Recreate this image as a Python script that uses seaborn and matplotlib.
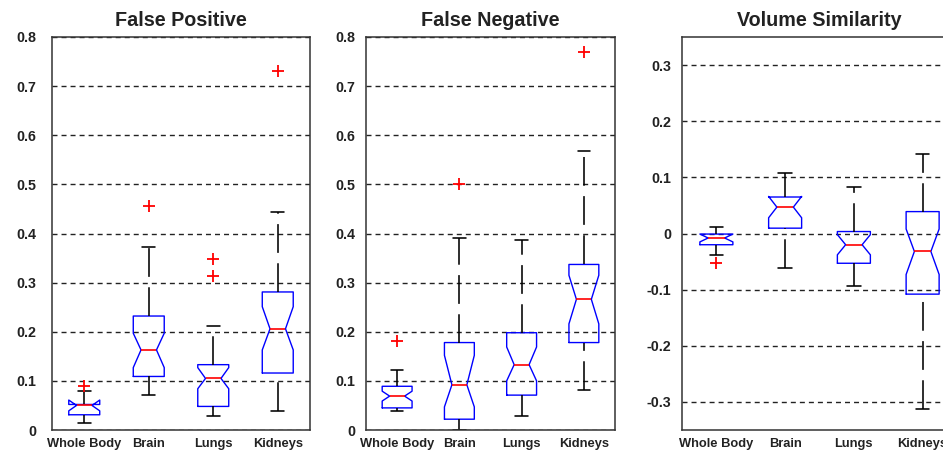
import matplotlib
matplotlib.use("Agg")
import matplotlib.pyplot as plt
import seaborn as sns

# ---------------- data (summary statistics) -------------
categories = ["Whole Body", "Brain", "Lungs", "Kidneys"]
titles = ["False Positive", "False Negative", "Volume Similarity"]

# False Positive
fp_whislo = [0.014, 0.071, 0.028, 0.038]
fp_q1     = [0.031, 0.109, 0.048, 0.116]
fp_med    = [0.050, 0.163, 0.105, 0.206]
fp_q3     = [0.052, 0.232, 0.133, 0.281]
fp_whishi = [0.079, 0.373, 0.211, 0.444]
fp_cilo   = [0.039, 0.127, 0.084, 0.163]
fp_cihi   = [0.061, 0.197, 0.127, 0.251]
fp_fliers = [[0.090], [0.455], [0.313, 0.348], [0.731]]

# False Negative
fn_whislo = [0.039, 0.000, 0.028, 0.082]
fn_q1     = [0.045, 0.022, 0.071, 0.178]
fn_med    = [0.069, 0.092, 0.133, 0.266]
fn_q3     = [0.089, 0.178, 0.198, 0.337]
fn_whishi = [0.123, 0.391, 0.386, 0.568]
fn_cilo   = [0.059, 0.047, 0.100, 0.216]
fn_cihi   = [0.079, 0.152, 0.169, 0.315]
fn_fliers = [[0.181], [0.500], [], [0.769]]

# Volume Similarity
vs_whislo = [-0.038, -0.061, -0.094, -0.313]
vs_q1     = [-0.020, 0.0095, -0.053, -0.108]
vs_med    = [-0.008, 0.047, -0.020, -0.032]
vs_q3     = [-0.001, 0.065, 0.0035, 0.039]
vs_whishi = [0.012, 0.107, 0.083, 0.142]
vs_cilo   = [-0.015, 0.028, -0.038, -0.073]
vs_cihi   = [-0.001, 0.066, -0.002, 0.008]
vs_fliers = [[-0.053], [], [], []]

fp_yticks = [0, 0.1, 0.2, 0.3, 0.4, 0.5, 0.6, 0.7, 0.8]
fp_ylabels = ["0", "0.1", "0.2", "0.3", "0.4", "0.5", "0.6", "0.7", "0.8"]
vs_yticks = [-0.3, -0.2, -0.1, 0, 0.1, 0.2, 0.3]
vs_ylabels = ["-0.3", "-0.2", "-0.1", "0", "0.1", "0.2", "0.3"]

panels = [
    (fp_whislo, fp_q1, fp_med, fp_q3, fp_whishi, fp_cilo, fp_cihi, fp_fliers),
    (fn_whislo, fn_q1, fn_med, fn_q3, fn_whishi, fn_cilo, fn_cihi, fn_fliers),
    (vs_whislo, vs_q1, vs_med, vs_q3, vs_whishi, vs_cilo, vs_cihi, vs_fliers),
]
ylims = [(0, 0.8), (0, 0.8), (-0.35, 0.35)]
ytick_sets = [(fp_yticks, fp_ylabels), (fp_yticks, fp_ylabels), (vs_yticks, vs_ylabels)]

# ---------------- style ----------------
sns.set_style("white")
plt.rcParams["font.family"] = ["Liberation Sans", "DejaVu Sans"]
plt.rcParams["font.weight"] = "bold"

W, H = 943, 453
fig = plt.figure(figsize=(W / 100, H / 100), dpi=100)

# axes boxes in pixels: (left, width)
ax_px = [(52, 258), (366, 249), (682, 275)]
top_px, bot_px = 37, 430
ylab_pad = [11, 8, 8]

for i, (stats_src, (xl, xw)) in enumerate(zip(panels, ax_px)):
    ax = fig.add_axes([xl / W, (H - bot_px) / H, xw / W, (bot_px - top_px) / H])
    wlo, q1, med, q3, whi, clo, chi, fl = stats_src
    stats = []
    for k, cat in enumerate(categories):
        stats.append(dict(label=cat, whislo=wlo[k], q1=q1[k], med=med[k], q3=q3[k],
                          whishi=whi[k], cilo=clo[k], cihi=chi[k], fliers=fl[k]))
    art = ax.bxp(stats, positions=range(1, 5), widths=0.48, capwidths=0.2,
                 shownotches=True, showfliers=True, patch_artist=False,
                 boxprops=dict(color="#0000ff", linewidth=1.0),
                 medianprops=dict(color="#ff0000", linewidth=1.2),
                 whiskerprops=dict(color="black", linewidth=1.15, linestyle=(0, (18, 6.5))),
                 capprops=dict(color="black", linewidth=1.15),
                 flierprops=dict(marker="+", markeredgecolor="#ff0000", markersize=8,
                                 markeredgewidth=1.3, linestyle="none"))
    # draw lower whiskers from the cap upwards (dash pattern starts at the cap)
    for j, line in enumerate(art["whiskers"]):
        if j % 2 == 0:
            line.set_ydata(line.get_ydata()[::-1])
            line.set_xdata(line.get_xdata()[::-1])

    ax.set_xlim(0.5, 4.5)
    ax.set_ylim(*ylims[i])
    yt, yl = ytick_sets[i]
    ax.set_yticks(yt)
    ax.set_yticklabels(yl, fontsize=10.3, fontweight="bold", color="#222222")
    ax.set_xticks(range(1, 5))
    ax.set_xticklabels(categories, fontsize=9.3, fontweight="bold", color="#222222")
    ax.tick_params(axis="y", length=0, pad=ylab_pad[i])
    ax.tick_params(axis="x", length=0, pad=6)
    ax.yaxis.grid(True, color="#222222", linewidth=1.0, linestyle=(0, (3.6, 2.9)))
    ax.xaxis.grid(False)
    ax.set_axisbelow(True)
    for sp in ax.spines.values():
        sp.set_color("#333333")
        sp.set_linewidth(1.1)
        sp.set_visible(True)
        sp.set_zorder(3)
    ax.set_title(titles[i], fontsize=14.2, fontweight="bold", color="#222222", pad=8)

fig.savefig("out.png", dpi=100)
